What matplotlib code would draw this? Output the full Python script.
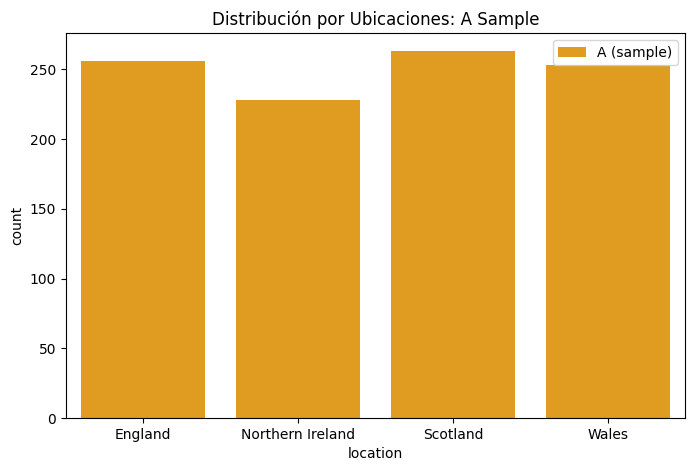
import matplotlib
matplotlib.use("Agg")
import matplotlib.pyplot as plt
import seaborn as sns

categories = ["England", "Northern Ireland", "Scotland", "Wales"]
counts = [256, 228, 263, 253]
series_label = "A (sample)"

color = sns.desaturate("orange", 0.75)

fig = plt.figure(figsize=(6.95, 4.71), dpi=100)
ax = fig.add_axes([66/695, 1-418/471, (685-66)/695, (418-33)/471])
x = list(range(len(categories)))
ax.bar(x, counts, width=0.8, color=color, label=series_label)
ax.set_xticks(x)
ax.set_xticklabels(categories)
ax.set_xlim(-0.5, len(categories)-0.5)
ax.set_xlabel("location")
ax.set_ylabel("count")
ax.set_title("Distribución por Ubicaciones: A Sample")
ax.legend(loc="upper right")
fig.savefig("out.png", dpi=100)
